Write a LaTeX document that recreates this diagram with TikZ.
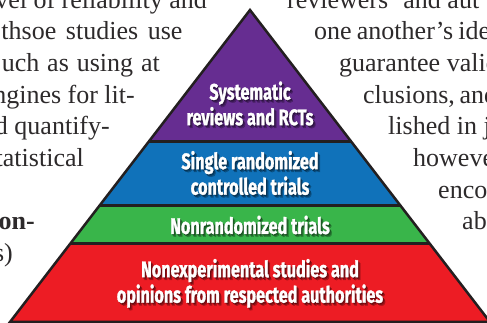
\documentclass[tikz,border=0pt]{standalone}
\usepackage{fontspec}
\setmainfont{Liberation Serif}
\newfontfamily\tierfont[FakeStretch=0.72, FakeBold=1.2]{Fira Sans}
\usepackage{xcolor}
\usepackage{tikz}
\usetikzlibrary{calc}

\definecolor{tierpurple}{RGB}{102,45,145}
\definecolor{tierblue}{RGB}{16,114,186}
\definecolor{tiergreen}{RGB}{57,181,74}
\definecolor{tierred}{RGB}{237,28,36}
\definecolor{edgedark}{RGB}{35,31,32}
\definecolor{bodytext}{RGB}{45,42,43}

\begin{document}
\begin{tikzpicture}[x=1pt, y=1pt,
  tier/.style={font=\tierfont\bfseries\fontsize{22.5}{25.5}\selectfont, text=white, align=center, inner sep=0pt},
  tiershade/.style={tier, text=black, text opacity=0.22},
  body/.style={font=\fontsize{26}{31.7}\selectfont, text=bodytext, inner sep=0pt},
  leftline/.style={body, anchor=base east},
  rightline/.style={body, anchor=base west}]
\useasboundingbox (0,0) rectangle (487,323);
\clip (0,0) rectangle (487,323);

%corners of the pyramid and the tier borders
\coordinate (apex) at (250,313);
\coordinate (bl) at (10,1);
\coordinate (br) at (490,1);
\coordinate (l1) at ($(apex)!0.42!(bl)$);
\coordinate (r1) at ($(apex)!0.42!(br)$);
\coordinate (l2) at ($(apex)!0.627!(bl)$);
\coordinate (r2) at ($(apex)!0.627!(br)$);
\coordinate (l3) at ($(apex)!0.75!(bl)$);
\coordinate (r3) at ($(apex)!0.75!(br)$);

\fill[tierpurple] (apex) -- (l1) -- (r1) -- cycle;
\fill[tierblue] (l1) -- (l2) -- (r2) -- (r1) -- cycle;
\fill[tiergreen] (l2) -- (l3) -- (r3) -- (r2) -- cycle;
\fill[tierred] (l3) -- (bl) -- (br) -- (r3) -- cycle;
\draw[edgedark, line width=3pt] (l1) -- (r1) (l2) -- (r2) (l3) -- (r3);
\draw[edgedark, line width=2.5pt, line join=miter] (apex) -- (bl) -- (br) -- cycle;

%tier labels, with a soft shadow behind
\foreach \name/\pos/\txt in {
    sys/{250,219.5}/{Systematic\\reviews and RCTs},
    rct/{250,150}/{Single randomized\\controlled trials},
    nonrand/{250,98}/{Nonrandomized trials},
    nonexp/{250,39.7}/{Nonexperimental studies and\\opinions from respected authorities}} {
  \foreach \s in {1,2,3}
    \node[tiershade] (\name-sh\s) at ($(\pos)+(0.8*\s,-0.9*\s)$) {\txt};
  \node[tier] (\name) at (\pos) {\txt};
}

%running text on both sides
\node[leftline] (a1) at (207,314.9) {evel of reliability and};
\node[leftline] (a2) at (182.7,283.2) {\makebox[181pt][s]{thsoe studies use}};
\node[leftline] (a3) at (160,251.5) {\makebox[158pt][s]{uch as using at}};
\node[leftline] (a4) at (135,219.8) {ngines for lit-};
\node[leftline] (a5) at (110,188.1) {d quantify-};
\node[leftline] (a6) at (84,156.4) {tatistical};
\node[leftline, font=\fontsize{26}{31.7}\selectfont\bfseries] (a7) at (35,93) {on-};
\node[leftline] (a8) at (13,61.3) {s)};

\node[rightline] (b1) at (287,314.9) {reviewers’ and aut};
\node[rightline] (b2) at (314,283.2) {\makebox[176pt][s]{one another’s ide}};
\node[rightline] (b3) at (339,251.5) {guarantee valid};
\node[rightline] (b4) at (363,219.8) {\makebox[121pt][s]{clusions, and}};
\node[rightline] (b5) at (388,188.1) {lished in j};
\node[rightline] (b6) at (413,156.4) {howeve};
\node[rightline] (b7) at (438,124.7) {enco};
\node[rightline] (b8) at (462,93) {ab};
\end{tikzpicture}
\end{document}
